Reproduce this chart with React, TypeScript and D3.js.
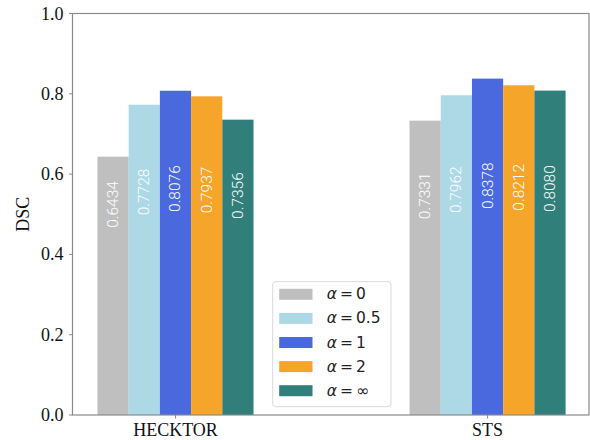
import React from "react";
import * as d3 from "d3";

const categories = ["HECKTOR", "STS"];
const seriesNames = ["0", "0.5", "1", "2", "∞"];
const seriesColors = ["#bfbfbf", "#add8e6", "#4a69df", "#f4a52a", "#317f7b"];
const hecktorValues = [0.6434, 0.7728, 0.8076, 0.7937, 0.7356];
const stsValues = [0.7331, 0.7962, 0.8378, 0.8212, 0.808];
const yTicks = [0, 0.2, 0.4, 0.6, 0.8, 1.0];

const W = 590;
const H = 440;
const left = 72.5;
const right = 589;
const top = 13.5;
const bottom = 415;

export default function App() {
  const x = d3.scaleLinear().domain([-0.33, 1.325]).range([left, right]);
  const y = d3.scaleLinear().domain([0, 1]).range([bottom, top]);
  const barW = 0.1;
  const groups = [hecktorValues, stsValues];
  const serif = "'Liberation Serif', 'Times New Roman', serif";
  const sans = "'DejaVu Sans', sans-serif";
  const axisColor = "#8a8a8a";

  const legX = 272.7;
  const legY = 281.7;
  const legW = 118.3;
  const legH = 125;

  return (
    <svg
      width={W}
      height={H}
      style={{ position: "absolute", left: 0, top: 0, background: "#fff" }}
    >
      {/* bars */}
      {groups.map((vals, gi) =>
        vals.map((v, si) => {
          const c = gi + (si - 2) * barW;
          const x0 = x(c - barW / 2);
          const x1 = x(c + barW / 2);
          return (
            <rect
              key={`b${gi}-${si}`}
              x={x0}
              y={y(v)}
              width={x1 - x0}
              height={y(0) - y(v)}
              fill={seriesColors[si]}
            />
          );
        })
      )}
      {/* bar labels */}
      {groups.map((vals, gi) =>
        vals.map((v, si) => {
          const c = gi + (si - 2) * barW;
          const cx = x(c);
          const cy = y(0.37 + 0.24 * v);
          return (
            <text
              key={`l${gi}-${si}`}
              transform={`translate(${cx},${cy}) rotate(-90)`}
              textAnchor="middle"
              dominantBaseline="central"
              fill="#ffffff"
              fontFamily="Roboto, 'Open Sans', sans-serif"
              fontWeight={300}
              fontSize={15.5}
            >
              {v.toFixed(4)}
            </text>
          );
        })
      )}
      {/* frame */}
      <rect
        x={left}
        y={top}
        width={right - left}
        height={bottom - top}
        fill="none"
        stroke={axisColor}
        strokeWidth={1.2}
      />
      {/* y ticks */}
      {yTicks.map((t) => (
        <g key={`yt${t}`}>
          <line
            x1={left - 3.5}
            x2={left}
            y1={y(t)}
            y2={y(t)}
            stroke={axisColor}
            strokeWidth={1}
          />
          <text
            x={left - 9}
            y={y(t)}
            textAnchor="end"
            dominantBaseline="central"
            fontFamily={serif}
            fontSize={18}
            fill="#111"
          >
            {t.toFixed(1)}
          </text>
        </g>
      ))}
      {/* x ticks */}
      {categories.map((cat, i) => (
        <g key={`xt${cat}`}>
          <line
            x1={x(i)}
            x2={x(i)}
            y1={bottom}
            y2={bottom + 3.5}
            stroke={axisColor}
            strokeWidth={1}
          />
          <text
            x={x(i)}
            y={bottom + 21}
            textAnchor="middle"
            fontFamily={serif}
            fontSize={18}
            fill="#111"
          >
            {cat}
          </text>
        </g>
      ))}
      {/* y label */}
      <text
        transform={`translate(${23},${(top + bottom) / 2}) rotate(-90)`}
        textAnchor="middle"
        dominantBaseline="central"
        fontFamily={serif}
        fontSize={18}
        fill="#111"
      >
        DSC
      </text>
      {/* legend */}
      <rect
        x={legX}
        y={legY}
        width={legW}
        height={legH}
        rx={3}
        fill="#fff"
        fillOpacity={0.85}
        stroke="#d9d9d9"
        strokeWidth={1}
      />
      {seriesNames.map((n, i) => {
        const cy = legY + 12.6 + i * 24.1;
        return (
          <g key={`lg${i}`}>
            <rect
              x={legX + 6.5}
              y={cy - 5.5}
              width={33.3}
              height={11}
              fill={seriesColors[i]}
            />
            <text
              x={legX + 54}
              y={cy}
              dominantBaseline="central"
              fontFamily={sans}
              fontSize={15.5}
              fill="#222"
            >
              <tspan fontStyle="italic">α</tspan>
              <tspan dx={3}>=</tspan>
              <tspan dx={3}>{n}</tspan>
            </text>
          </g>
        );
      })}
    </svg>
  );
}
